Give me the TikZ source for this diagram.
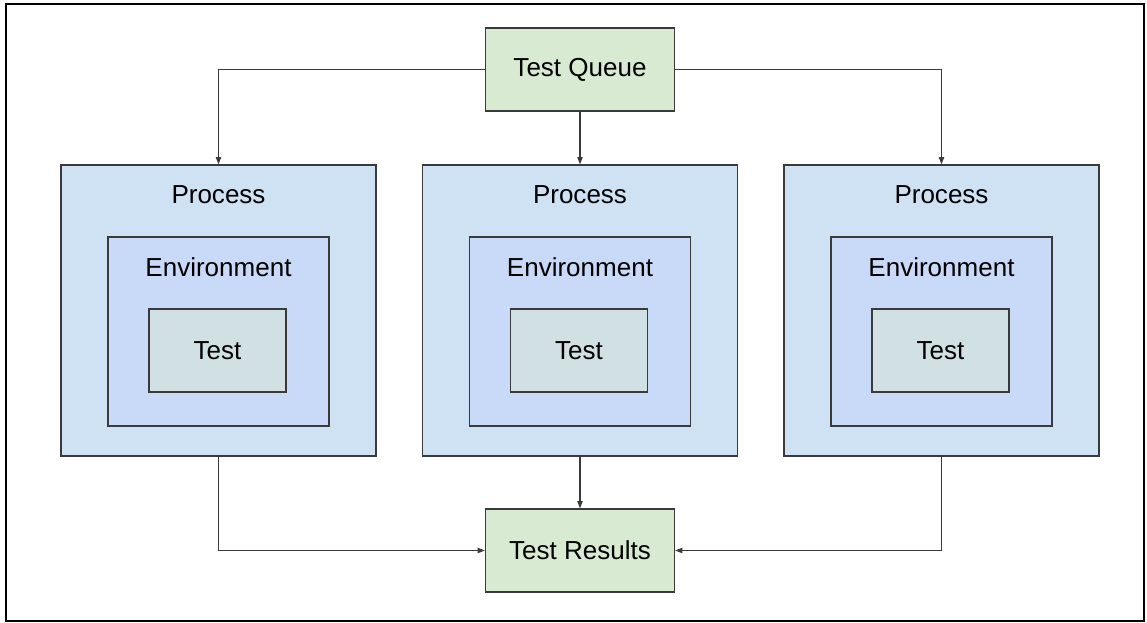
\documentclass[tikz,border=0pt]{standalone}
\usepackage{fontspec}
\setmainfont{Liberation Sans}
\usepackage{xcolor}
\usetikzlibrary{shapes,arrows.meta,positioning,calc}

\definecolor{queuegreen}{HTML}{D9EAD3}
\definecolor{procblue}{HTML}{CFE2F3}
\definecolor{envblue}{HTML}{C9DAF8}
\definecolor{testgray}{HTML}{D0E0E3}
\definecolor{edgegray}{HTML}{3A3A3A}

\tikzset{
  box/.style={rectangle, draw=edgegray, line width=0.8pt, inner sep=0pt},
  queuebox/.style={box, fill=queuegreen, minimum width=4.725cm, minimum height=2.075cm},
  procbox/.style={box, fill=procblue, minimum width=7.875cm, minimum height=7.275cm},
  envbox/.style={box, fill=envblue, minimum width=5.525cm, minimum height=4.725cm},
  testbox/.style={box, fill=testgray, minimum width=3.425cm, minimum height=2.075cm},
  link/.style={draw=edgegray, line width=0.8pt, -{Triangle[length=1.8mm,width=1.3mm]}}
}

\begin{document}
\begin{tikzpicture}[x=0.025cm, y=-0.025cm, font=\fontsize{18.5}{22}\selectfont]
\useasboundingbox (0,0) rectangle (1147,623);
\draw[line width=2.1pt, black] (6,4) rectangle (1144,621);

\node[queuebox] (queue) at (580,69.5) {Test Queue};
\node[queuebox] (results) at (580,550.5) {Test Results};

% left column
\node[procbox] (proc1) at (218.5,310.5) {};
\node[envbox] (env1) at (218.5,331.5) {};
\node[testbox] (test1) at (217.5,350.5) {Test};
\node (ptxt1) at (218.5,195) {Process};
\node (etxt1) at (218.5,267) {Environment};

% middle column
\node[procbox] (proc2) at (580,310.5) {};
\node[envbox] (env2) at (580,331.5) {};
\node[testbox] (test2) at (579,350.5) {Test};
\node (ptxt2) at (580,195) {Process};
\node (etxt2) at (580,267) {Environment};

% right column
\node[procbox] (proc3) at (941.5,310.5) {};
\node[envbox] (env3) at (941.5,331.5) {};
\node[testbox] (test3) at (940.5,350.5) {Test};
\node (ptxt3) at (941.5,195) {Process};
\node (etxt3) at (941.5,267) {Environment};

\draw[link] (queue.west) -| (proc1.north);
\draw[link] (queue.south) -- (proc2.north);
\draw[link] (queue.east) -| (proc3.north);

\draw[link] (proc1.south) |- (results.west);
\draw[link] (proc2.south) -- (results.north);
\draw[link] (proc3.south) |- (results.east);
\end{tikzpicture}
\end{document}
